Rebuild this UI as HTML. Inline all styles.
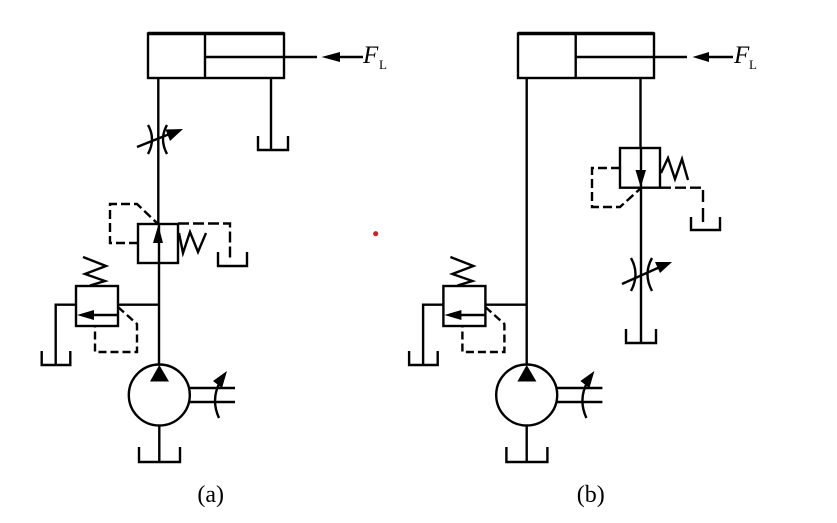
<!DOCTYPE html>
<html><head><meta charset="utf-8"><style>html,body{margin:0;padding:0;background:#fff}svg{display:block}text{font-family:"Liberation Serif",serif;fill:#000}</style></head>
<body>
<svg width="837" height="523" viewBox="0 0 837 523" xmlns="http://www.w3.org/2000/svg">
<defs>
<g id="rel" fill="none" stroke="#000" stroke-width="2.400">
  <rect x="76" y="286" width="42" height="40"/>
  <path d="M83 257L106 266L85 274L105 281L90 285.500"/>
  <path d="M118 304.700H159.300M76 304.700H55.700V365M41.700 351V365H70.300V351"/>
  <path d="M118 315H90"/>
  <path d="M77 315L94 310V320Z" fill="#000" stroke="none"/>
  <path d="M118 307L137 324V352H95V326" stroke-dasharray="8 4"/>
</g>
<g id="pump" fill="none" stroke="#000" stroke-width="2.400">
  <circle cx="159.300" cy="395" r="30.500"/>
  <path d="M159.300 425V462M139 447V462H180V447"/>
  <path d="M159.300 365L169 381.500H150Z" fill="#000" stroke="none"/>
  <path d="M189 388H235M189 402H235"/>
  <path d="M219 418Q209 396 224 376"/>
  <path d="M227 371L222 388L213 381Z" fill="#000" stroke="none"/>
</g>
</defs>

<!-- (a) -->
<g fill="none" stroke="#000" stroke-width="2.400">
  <path d="M148 33.500H284" stroke-width="3.600"/>
  <rect x="148" y="33.500" width="136" height="44.500"/>
  <path d="M205 33.500V78M205 57H317M340 57H363"/>
  <path d="M158.300 78V224M271 78V150M258 136V150H288V136"/>
  <path d="M148 125Q156 139 148 154M167 125Q159 139 167 154"/>
  <path d="M137 147L172 133"/>
  <path d="M183 129L170 141L165.500 129.500Z" fill="#000" stroke="none"/>
  <path d="M321.500 57L340 52V62Z" fill="#000" stroke="none"/>
  <rect x="138" y="224" width="40" height="39"/>
  <path d="M159 224V365"/>
  <path d="M158.300 225L163 243H153Z" fill="#000" stroke="none"/>
  <path d="M138 243H110V204H137L158 224" stroke-dasharray="9 4"/>
  <path d="M178 223.500H230V258" stroke-dasharray="11 4"/>
  <path d="M218 252V266H247V252"/>
  <path d="M179 233L183 253L190 232L198 252L206 233"/>
</g>
<use href="#rel"/>
<use href="#pump"/>

<!-- (b) -->
<g fill="none" stroke="#000" stroke-width="2.400">
  <path d="M518 33.500H654" stroke-width="3.600"/>
  <rect x="518" y="33.500" width="136" height="44.500"/>
  <path d="M575.700 33.500V78M575.700 57H687M709 57H733"/>
  <path d="M526.700 78V365M640.500 78V148M641 148V343M626 329V343H656V329"/>
  <path d="M692.500 57L709 52V62Z" fill="#000" stroke="none"/>
  <rect x="620" y="148" width="40" height="39.700"/>
  <path d="M640.700 187.500L635.500 170H646Z" fill="#000" stroke="none"/>
  <path d="M620 168H592V207H620L641 188" stroke-dasharray="9 4"/>
  <path d="M660 187.700H703" stroke-dasharray="11 4"/>
  <path d="M703 190V202M703 208V222"/>
  <path d="M691 217V230H720V217"/>
  <path d="M661 173L668 158L675 179L682 159L688 180"/>
  <path d="M631 258Q640 274 631 291M652 258Q643 274 652 291"/>
  <path d="M622 284L660 267"/>
  <path d="M672 262L660 273L655 262Z" fill="#000" stroke="none"/>
</g>
<use href="#rel" x="367.400"/>
<use href="#pump" x="367.400"/>

<!-- Labels -->
<text x="363" y="63" font-size="25" font-style="italic">F</text>
<text x="379" y="69" font-size="13">L</text>
<text x="734" y="63" font-size="25" font-style="italic">F</text>
<text x="749" y="69" font-size="13">L</text>
<text x="210.700" y="502" font-size="24" text-anchor="middle">(a)</text>
<text x="590.700" y="502" font-size="24" text-anchor="middle">(b)</text>
<circle cx="375.700" cy="233.700" r="2.600" fill="#c9252d"/>
</svg>
</body></html>
